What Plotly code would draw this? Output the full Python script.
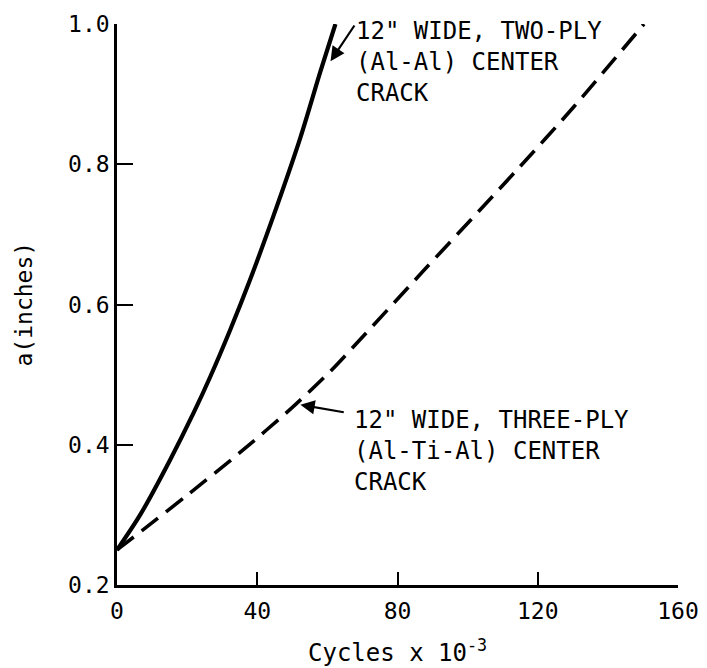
import plotly.graph_objects as go

# Two-ply (Al-Al) center crack, solid curve
two_ply_cycles = [0, 6.6, 15.1, 21.8, 26.6, 32.3, 38.0, 44.6, 52.3, 58.0, 62.3]
two_ply_a = [0.25, 0.300, 0.378, 0.445, 0.497, 0.564, 0.636, 0.726, 0.838, 0.932, 1.0]

# Three-ply (Al-Ti-Al) center crack, dashed curve
three_ply_cycles = [0, 7.5, 20.0, 35.1, 50.4, 60.9, 67.5, 87.4, 115.0, 130.3, 150.3]
three_ply_a = [0.25, 0.279, 0.328, 0.389, 0.455, 0.505, 0.540, 0.648, 0.797, 0.882, 1.0]

x_ticks = [0, 40, 80, 120, 160]
y_ticks = [0.2, 0.4, 0.6, 0.8, 1.0]
y_tick_labels = ["0.2", "0.4", "0.6", "0.8", "1.0"]

label_two = '12" WIDE, TWO-PLY<br>(Al-Al) CENTER<br>CRACK'
label_three = '12" WIDE, THREE-PLY<br>(Al-Ti-Al) CENTER<br>CRACK'
x_title = "Cycles x 10<sup>-3</sup>"
y_title = "a(inches)"

FONT = "DejaVu Sans Mono"

fig = go.Figure()
fig.add_trace(go.Scatter(x=two_ply_cycles, y=two_ply_a, mode="lines",
                         line=dict(color="black", width=4.2, shape="spline", smoothing=0.8),
                         showlegend=False, hoverinfo="skip"))
fig.add_trace(go.Scatter(x=three_ply_cycles, y=three_ply_a, mode="lines",
                         line=dict(color="black", width=3.6, shape="spline", smoothing=0.8,
                                   dash="21px,10px"),
                         showlegend=False, hoverinfo="skip"))

# text labels
fig.add_annotation(x=67.6, y=0.946, xref="x", yref="y", text=label_two, showarrow=False,
                   xanchor="left", yanchor="middle", align="left",
                   font=dict(family=FONT, size=24, color="black"))
fig.add_annotation(x=67.0, y=0.391, xref="x", yref="y", text=label_three, showarrow=False,
                   xanchor="left", yanchor="middle", align="left",
                   font=dict(family=FONT, size=24, color="black"))
# arrows
fig.add_annotation(x=60.9, y=0.947, ax=68.0, ay=1.0, xref="x", yref="y", axref="x", ayref="y",
                   text="", showarrow=True, arrowhead=2, arrowsize=1.3, arrowwidth=2.2,
                   arrowcolor="black", standoff=0, startstandoff=0)
fig.add_annotation(x=52.3, y=0.457, ax=65.1, ay=0.446, xref="x", yref="y", axref="x", ayref="y",
                   text="", showarrow=True, arrowhead=2, arrowsize=1.3, arrowwidth=2.2,
                   arrowcolor="black", standoff=0, startstandoff=0)

# axis titles
fig.add_annotation(x=0.5, y=0, xref="paper", yref="paper", text=x_title, showarrow=False,
                   xanchor="center", yanchor="middle", yshift=-66,
                   font=dict(family=FONT, size=24, color="black"))
fig.add_annotation(x=0, y=0.5, xref="paper", yref="paper", text=y_title, showarrow=False,
                   xanchor="center", yanchor="middle", xshift=-94, textangle=-90,
                   font=dict(family=FONT, size=23, color="black"))

fig.update_layout(
    width=707, height=668,
    margin=dict(l=117, r=29, t=24, b=83),
    paper_bgcolor="white", plot_bgcolor="white",
    font=dict(family=FONT, size=23, color="black"),
    xaxis=dict(range=[0, 160], tickvals=x_ticks, ticktext=[str(v) for v in x_ticks],
               showgrid=False, zeroline=False, showline=True, linecolor="black", linewidth=2.5,
               ticks="inside", ticklen=13, tickwidth=2, tickcolor="black",
               ticklabelstandoff=4, tickfont=dict(family=FONT, size=23), automargin=False),
    yaxis=dict(range=[0.2, 1.0], tickvals=y_ticks, ticktext=y_tick_labels,
               showgrid=False, zeroline=False, showline=True, linecolor="black", linewidth=2.5,
               ticks="inside", ticklen=16, tickwidth=2, tickcolor="black",
               tickfont=dict(family=FONT, size=23), automargin=False),
)

fig.write_html("out.html")
